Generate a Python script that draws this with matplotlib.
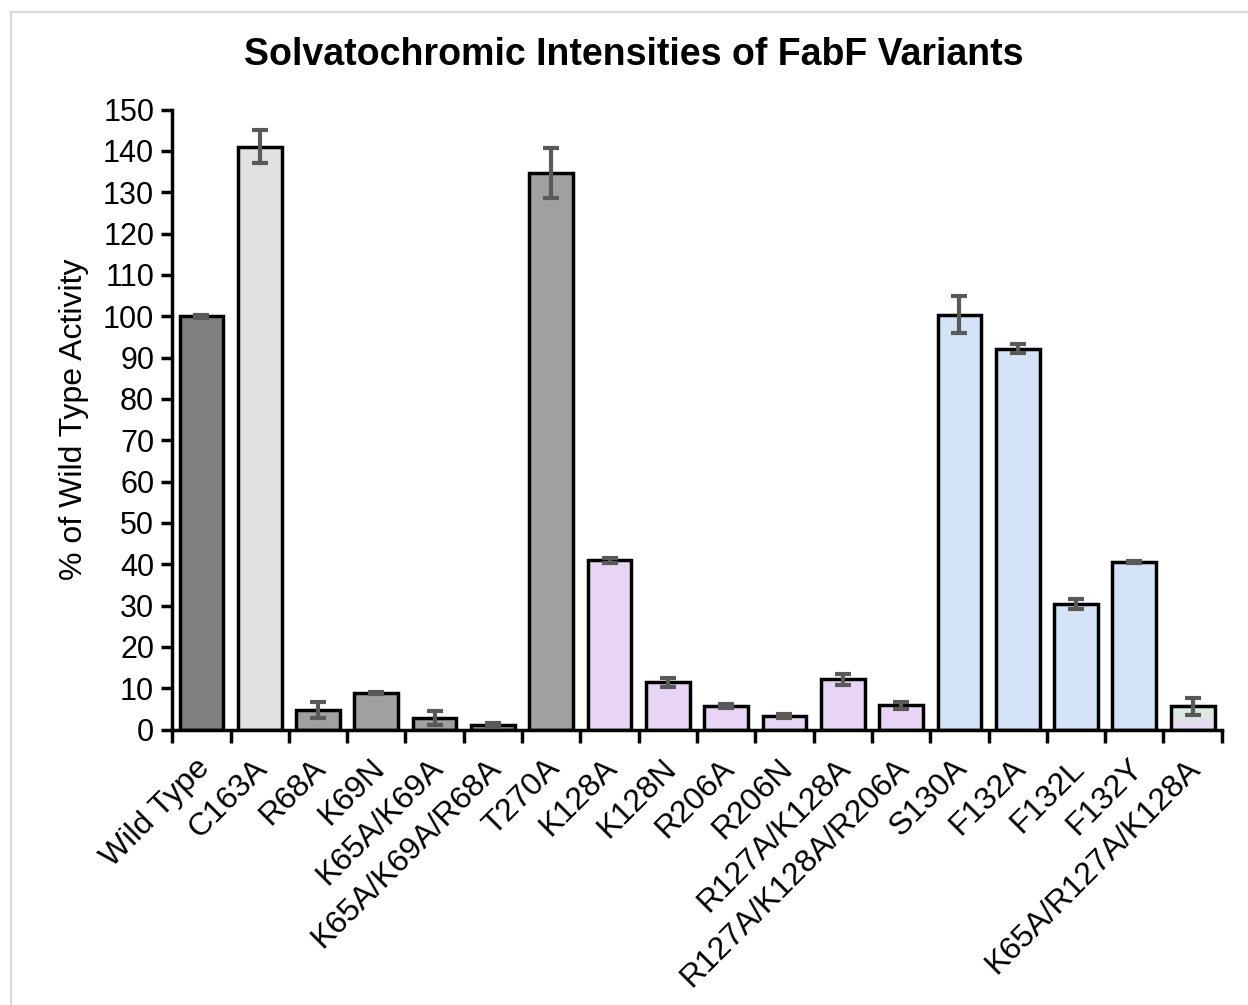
import numpy as np
import matplotlib
matplotlib.use("Agg")
import matplotlib.pyplot as plt
from matplotlib.lines import Line2D
from matplotlib.colors import LinearSegmentedColormap
from matplotlib.transforms import ScaledTranslation

plt.rcParams['font.family'] = ['Liberation Sans', 'DejaVu Sans']

variants = ["Wild Type", "C163A", "R68A", "K69N", "K65A/K69A", "K65A/K69A/R68A",
            "T270A", "K128A", "K128N", "R206A", "R206N", "R127A/K128A",
            "R127A/K128A/R206A", "S130A", "F132A", "F132L", "F132Y", "K65A/R127A/K128A"]
activity = [100.0, 141.0, 4.8, 8.9, 2.8, 1.2,
            134.7, 41.0, 11.5, 5.7, 3.4, 12.2,
            5.9, 100.4, 92.1, 30.5, 40.6, 5.6]
errors = [0.4, 4.0, 2.0, 0.3, 1.7, 0.3,
          6.0, 0.6, 1.1, 0.4, 0.5, 1.3,
          0.9, 4.5, 1.1, 1.2, 0.3, 2.0]
colors = ["#7f7f7f", "#e0e0e0", "#a0a0a0", "#a0a0a0", "#a0a0a0", "#a0a0a0",
          "#a0a0a0", "#e8d5f5", "#e8d5f5", "#e8d5f5", "#e8d5f5", "#e8d5f5",
          "#e8d5f5", "#d5e3f7", "#d5e3f7", "#d5e3f7", "#d5e3f7", "#dff2dc"]
yticks = list(range(0, 151, 10))

fig = plt.figure(figsize=(12.48, 10.05), dpi=100)
ax = fig.add_axes([0.138, 0.274, 0.841, 0.617])

x = np.arange(len(variants))
bars = ax.bar(x, activity, width=0.75, color=colors, edgecolor="black",
              linewidth=2.5, zorder=2)

# last bar fades from green at top to lavender at bottom
last = bars[-1]
grad = np.linspace(0, 1, 64).reshape(-1, 1)
cmap = LinearSegmentedColormap.from_list("gl", ["#ecd6f7", "#d4f2d6"])
bx, bw, bh = last.get_x(), last.get_width(), last.get_height()
im = ax.imshow(grad, cmap=cmap, origin="lower", aspect="auto",
               extent=[bx, bx + bw, 0, bh], zorder=2.1)
im.set_clip_path(last)
last.set_facecolor("none")
last.set_zorder(2.2)

ax.errorbar(x, activity, yerr=errors, fmt="none", ecolor="#595959",
            elinewidth=3, capsize=6, capthick=3, zorder=3)

ax.set_xlim(-0.5, len(variants) - 0.5)
ax.set_ylim(0, 150)
ax.set_yticks(yticks)
ax.tick_params(axis="y", labelsize=22, width=2.5, length=8, direction="out", pad=5)
ax.set_xticks(x)
ax.set_xticklabels(variants, rotation=45, ha="right", rotation_mode="anchor", fontsize=23)
ax.tick_params(axis="x", length=0, pad=17)
shift = ScaledTranslation(-7 / 100, 0, fig.dpi_scale_trans)
for lbl in ax.get_xticklabels():
    lbl.set_transform(lbl.get_transform() + shift)
# category divider ticks
ax.set_xticks(np.arange(-0.5, len(variants), 1.0), minor=True)
ax.tick_params(axis="x", which="minor", length=9, width=2.5, direction="out")

for s in ["top", "right"]:
    ax.spines[s].set_visible(False)
for s in ["left", "bottom"]:
    ax.spines[s].set_linewidth(2.5)

ax.set_ylabel("% of Wild Type Activity", fontsize=23, labelpad=10)
fig.text(0.508, 0.945, "Solvatochromic Intensities of FabF Variants",
         ha="center", va="center", fontsize=27, fontweight="bold")

# light frame around the chart area
fig.add_artist(Line2D([11/1248, 11/1248], [0, 1 - 12/1005], transform=fig.transFigure,
                      color="#d9d9d9", lw=1.5))
fig.add_artist(Line2D([11/1248, 1], [1 - 12/1005, 1 - 12/1005], transform=fig.transFigure,
                      color="#d9d9d9", lw=1.5))

fig.savefig("out.png", dpi=100)
